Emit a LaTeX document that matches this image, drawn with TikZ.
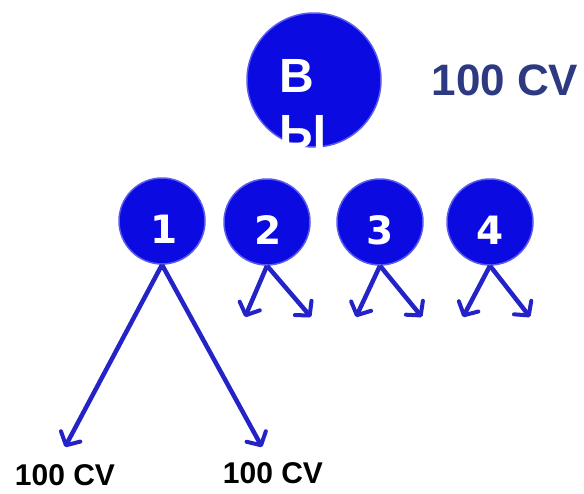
\documentclass[tikz,border=0pt]{standalone}
\usepackage{fontspec}
\setmainfont{Liberation Sans}
\newfontfamily\digitfont{DejaVu Sans}
\usetikzlibrary{arrows.meta, positioning}
\definecolor{DotBlue}{RGB}{10,10,225}
\definecolor{DotEdge}{RGB}{90,90,240}
\definecolor{ArrowBlue}{RGB}{35,35,200}
\definecolor{LabelNavy}{RGB}{45,58,130}
\tikzset{
  >={Straight Barb[length=10pt,width=22pt,line width=4pt,round]},
  % Cerchi
  big dot/.style={circle,fill=DotBlue,draw=DotEdge,line width=1.5pt,minimum size=134pt,inner sep=0},
  small dot/.style={circle,fill=DotBlue,draw=DotEdge,line width=1.5pt,minimum size=86pt,inner sep=0},
  dot text/.style={text=white,inner sep=0,font=\digitfont\bfseries\fontsize{39}{39}\selectfont},
  % Frecce
  split arrow/.style={->,line width=4.5pt,ArrowBlue},
  cv label/.style={inner sep=0,font=\bfseries\fontsize{30}{30}\selectfont}
}

\begin{document}
\begin{tikzpicture}[x=1pt,y=-1pt]
        \useasboundingbox[fill=white] (0,0) rectangle (584,493);
        \node[big dot] (you) at (314,80) {};
        \node[text=white,inner sep=0,align=left,font=\bfseries\fontsize{48}{56}\selectfont] (youtxt) at (303,104) {В\\Ы};
        \node[inner sep=0,text=LabelNavy,font=\bfseries\fontsize{44}{44}\selectfont] (cvtop) at (505,80) {100 CV};
        \node[small dot] (c1) at (162,221) {};
        \node[small dot] (c2) at (267,222) {};
        \node[small dot] (c3) at (380,222) {};
        \node[small dot] (c4) at (490,222) {};
        \node[dot text] (n1) at (164,229) {1};
        \node[dot text] (n2) at (268,230) {2};
        \node[dot text] (n3) at (380,230) {3};
        \node[dot text] (n4) at (490,230) {4};
        \coordinate (t1l) at (65,447); \coordinate (t1r) at (262,447);
        \coordinate (t2l) at (245,317); \coordinate (t2r) at (311,317);
        \coordinate (t3l) at (356,317); \coordinate (t3r) at (422,317);
        \coordinate (t4l) at (463,317); \coordinate (t4r) at (530,317);
        \draw[split arrow] (c1.south)--(t1l); \draw[split arrow] (c1.south)--(t1r);
        \draw[split arrow] (c2.south)--(t2l); \draw[split arrow] (c2.south)--(t2r);
        \draw[split arrow] (c3.south)--(t3l); \draw[split arrow] (c3.south)--(t3r);
        \draw[split arrow] (c4.south)--(t4l); \draw[split arrow] (c4.south)--(t4r);
        \node[cv label] (cvl) at (65,475) {100 CV};
        \node[cv label] (cvr) at (273,473) {100 CV};
      \end{tikzpicture}
\end{document}
